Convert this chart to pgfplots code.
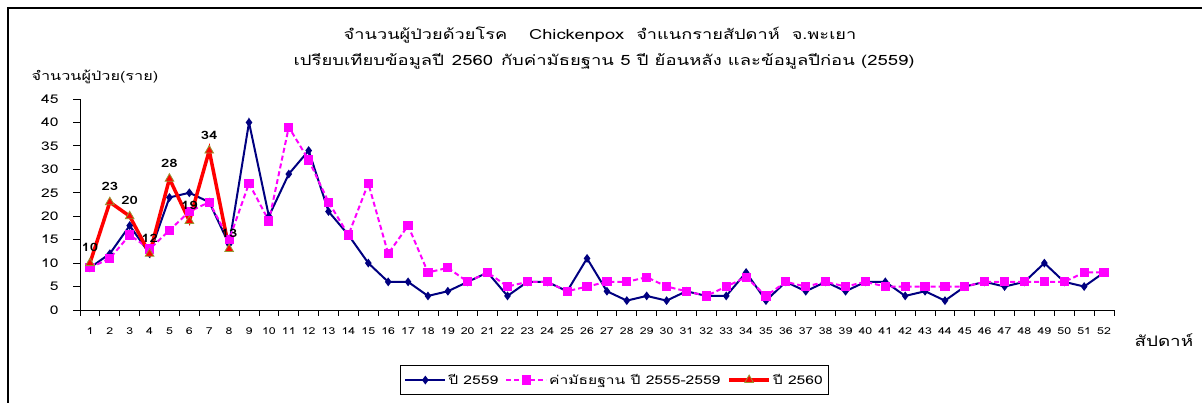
\documentclass[border=0pt]{standalone}
\usepackage{fontspec}
\setmainfont[Script=Thai, FakeStretch=1.3]{Loma}
\usepackage{pgfplots}
\pgfplotsset{compat=1.18}
\definecolor{navyc}{RGB}{0,0,128}
\definecolor{magc}{RGB}{255,0,255}
\definecolor{olivec}{RGB}{150,150,50}
\begin{document}
\begin{tikzpicture}[x=1pt,y=1pt]
\path[use as bounding box] (0,0) rectangle (1202,403);
\draw[line width=1.5pt] (8,0) -- (8,395) -- (1202,395);
\node[font=\fontsize{14}{16}\selectfont] at (600,368) {จำนวนผู้ป่วยด้วยโรค\hspace{22pt}Chickenpox\hspace{12pt}จำแนกรายสัปดาห์\hspace{12pt}จ.พะเยา};
\node[font=\fontsize{14.2}{16}\selectfont] at (604,342) {เปรียบเทียบข้อมูลปี\hspace{8pt}2560\hspace{8pt}กับค่ามัธยฐาน 5 ปี ย้อนหลัง และข้อมูลปีก่อน (2559)};
\node[font=\fontsize{12.5}{14}\selectfont, anchor=west] at (28,326) {จำนวนผู้ป่วย(ราย)};
\node[font=\fontsize{14.5}{16}\selectfont, anchor=west] at (1131,63) {สัปดาห์};
\begin{axis}[
  at={(80pt,93pt)}, anchor=south west,
  width=1034pt, height=211pt, scale only axis,
  xmin=0.5, xmax=52.5, ymin=0, ymax=45,
  axis x line=bottom, axis y line=left,
  axis line style={-, line width=0.8pt},
  xtick={1,...,52}, ytick={0,5,...,45},
  minor xtick={0.5,1.5,...,52.5},
  major x tick style={draw=none},
  minor x tick style={draw=black, line width=0.8pt},
  y tick style={draw=black, line width=0.8pt},
  tick align=outside, major tick length=7pt, minor tick length=6pt,
  /pgf/number format/assume math mode=true,
  xticklabel style={font=\fontsize{9.5}{10}\selectfont, yshift=-7pt},
  yticklabel style={font=\fontsize{12}{13}\selectfont, xshift=-11pt},
  legend columns=3,
  legend style={at={(0.517,-0.332)}, anchor=center, draw=black, line width=0.8pt,
    font=\fontsize{12}{14}\selectfont, inner xsep=4pt, inner ysep=7pt,
    /tikz/every even column/.append style={column sep=5pt}},
  legend image code/.code={\draw[mark repeat=2,mark phase=2,#1] plot coordinates {(0pt,0pt) (20pt,0pt) (40pt,0pt)};},
]
\addplot[color=navyc, line width=2pt, mark=diamond*, mark size=2.8pt, mark options={solid, fill=navyc}] coordinates {
(1,9)(2,12)(3,18)(4,12)(5,24)(6,25)(7,23)(8,14)(9,40)(10,20)(11,29)(12,34)(13,21)(14,16)(15,10)(16,6)(17,6)(18,3)(19,4)(20,6)(21,8)(22,3)(23,6)(24,6)(25,4)(26,11)(27,4)(28,2)(29,3)(30,2)(31,4)(32,3)(33,3)(34,8)(35,2)(36,6)(37,4)(38,6)(39,4)(40,6)(41,6)(42,3)(43,4)(44,2)(45,5)(46,6)(47,5)(48,6)(49,10)(50,6)(51,5)(52,8)};
\addlegendentry{ปี 2559}
\addplot[color=magc, line width=2pt, dash pattern=on 5pt off 3pt, mark=square*, mark size=3.6pt, mark options={solid, fill=magc}] coordinates {
(1,9)(2,11)(3,16)(4,13)(5,17)(6,21)(7,23)(8,15)(9,27)(10,19)(11,39)(12,32)(13,23)(14,16)(15,27)(16,12)(17,18)(18,8)(19,9)(20,6)(21,8)(22,5)(23,6)(24,6)(25,4)(26,5)(27,6)(28,6)(29,7)(30,5)(31,4)(32,3)(33,5)(34,7)(35,3)(36,6)(37,5)(38,6)(39,5)(40,6)(41,5)(42,5)(43,5)(44,5)(45,5)(46,6)(47,6)(48,6)(49,6)(50,6)(51,8)(52,8)};
\addlegendentry{ค่ามัธยฐาน ปี 2555-2559}
\addplot[color=red, line width=3.5pt, mark=triangle*, mark size=5pt, mark options={solid, fill=red, draw=olivec, line width=0.8pt},
  nodes near coords, nodes near coords style={font=\fontsize{11.5}{12}\selectfont\bfseries, text=black, anchor=south, yshift=10pt, inner sep=1pt}] coordinates {
(1,10)(2,23)(3,20)(4,12)(5,28)(6,19)(7,34)(8,13)};
\addlegendentry{ปี 2560}
\end{axis}
\end{tikzpicture}
\end{document}
